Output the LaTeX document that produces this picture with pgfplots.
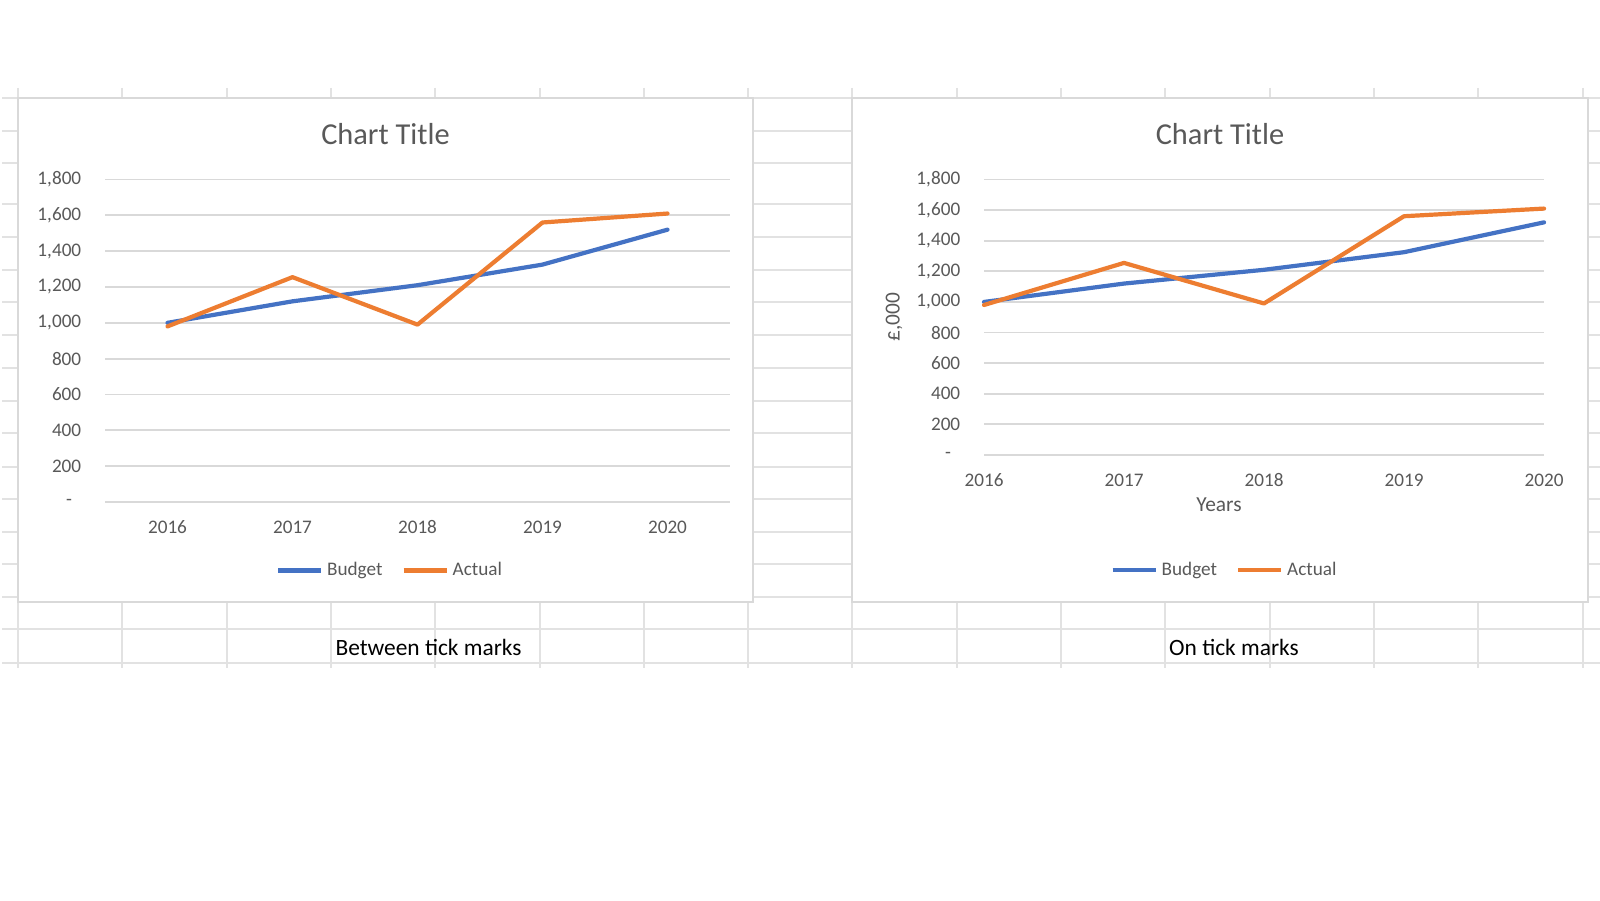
\documentclass[border=0pt]{standalone}
\usepackage{fontspec}
\setmainfont{Carlito}
\usepackage{pgfplots}
\usepackage{pgfplotstable}
\pgfplotsset{compat=1.18}
\definecolor{xblue}{HTML}{4472C4}
\definecolor{xorange}{HTML}{ED7D31}
\definecolor{xtext}{HTML}{595959}
\definecolor{xgrid}{HTML}{D9D9D9}
\definecolor{sheet}{HTML}{E2E2E2}

\pgfplotstableread{
x budget actual
0 1000 980
1 1120 1255
2 1210 990
3 1325 1560
4 1520 1610
}\data

\pgfplotsset{excel/.style={
  scale only axis, anchor=south west,
  ymin=0, ymax=1800, ytick={0,200,...,1800},
  yticklabels={\makebox[7.6pt][l]{-},200,400,600,800,{1,000},{1,200},{1,400},{1,600},{1,800}},
  xtick={0,1,2,3,4}, xticklabels={2016,2017,2018,2019,2020},
  ymajorgrids, major grid style={color=xgrid, line width=0.9pt},
  axis line style={draw=none}, major tick length=0pt,
  tick label style={font=\fontsize{9.6pt}{11pt}\selectfont, text=xtext},
  yticklabel style={anchor=east, inner sep=0pt, xshift=-11.7pt},
  xticklabel style={anchor=center, inner sep=0pt, yshift=-12.5pt},
  clip=false,
  legend columns=2,
  legend style={draw=none, fill=none, inner sep=0pt, anchor=center,
    nodes={inner sep=0pt, text=xtext, font=\fontsize{9.6pt}{11pt}\selectfont},
    /tikz/every odd column/.append style={column sep=2pt},
    /tikz/every even column/.append style={column sep=9.5pt}},
  legend image code/.code={\draw[##1, line cap=butt] (0pt,0pt) -- (21.5pt,0pt);},
  every axis plot/.append style={line width=2.1pt, line join=round, line cap=round},
}}

\begin{document}
\begin{tikzpicture}
\useasboundingbox (0,0) rectangle (800pt,450pt);
\fill[white] (0,0) rectangle (800pt,450pt);
\begin{scope}[x=0.5pt,y=-0.5pt,yshift=450pt]
  % spreadsheet grid
  \foreach \yy in {98,131,163,204,237,270,302,335,368,401,433,467,499,532,564,597,629,663}
    \draw[sheet, line width=1pt] (2,\yy) -- (1600,\yy);
  \foreach \k in {0,...,15}
    \draw[sheet, line width=1pt] ({18+104.3*\k},88) -- ({18+104.3*\k},668);
  % chart areas
  \filldraw[fill=white, draw=xgrid, line width=0.8pt] (18,98) rectangle (753,602);
  \filldraw[fill=white, draw=xgrid, line width=0.8pt] (852,98) rectangle (1588,602);
  % titles
  \node[text=xtext, font=\fontsize{15.2pt}{18pt}\selectfont] at (385.5,134) {Chart Title};
  \node[text=xtext, font=\fontsize{15.2pt}{18pt}\selectfont] at (1220,134) {Chart Title};
  \node[text=xtext, font=\fontsize{10.7pt}{13pt}\selectfont, rotate=90] at (894,317) {£,000};
  \node[text=xtext, font=\fontsize{10.7pt}{13pt}\selectfont] at (1219,505) {Years};
  \node[text=black, font=\fontsize{11.7pt}{14pt}\selectfont] at (428.5,647) {Between tick marks};
  \node[text=black, font=\fontsize{11.7pt}{14pt}\selectfont] at (1234,647) {On tick marks};
\end{scope}

\begin{axis}[excel, at={(52.5pt,199pt)}, width=312.5pt, height=161.25pt,
  xmin=-0.5, xmax=4.5, legend style={at={(0.4544,-0.2124)}}]
\addplot[xblue] table[x=x,y=budget]{\data};
\addplot[xorange] table[x=x,y=actual]{\data};
\legend{Budget,Actual}
\end{axis}

\begin{axis}[excel, at={(492pt,222.5pt)}, width=280pt, height=137.75pt,
  xmin=0, xmax=4, legend style={at={(0.4277,-0.4174)}}]
\addplot[xblue] table[x=x,y=budget]{\data};
\addplot[xorange] table[x=x,y=actual]{\data};
\legend{Budget,Actual}
\end{axis}
\end{tikzpicture}
\end{document}
